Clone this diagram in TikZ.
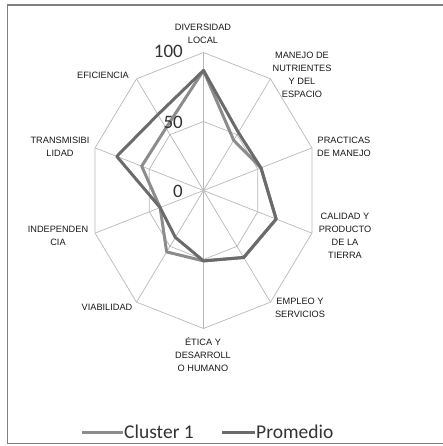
\documentclass[tikz,border=0pt]{standalone}
\usepackage{fontspec}
\setmainfont{Liberation Sans}
\newfontfamily\calib{Carlito}
\begin{document}
\begin{tikzpicture}[x=1pt,y=-1pt,
  gridline/.style={draw=black!28, line width=0.7pt},
  frameline/.style={draw=black!50, line width=1.6pt},
  clusterline/.style={draw=black!45, line width=3pt, line join=round},
  promline/.style={draw=black!58, line width=3pt, line join=round},
  axlabel/.style={font=\fontsize{9.2}{13}\selectfont, align=center, inner sep=0pt, text=black!90},
  scalelabel/.style={font=\calib\fontsize{19}{19}\selectfont, anchor=east, inner sep=0pt, text=black!80},
  legendtext/.style={font=\calib\fontsize{19.5}{19.5}\selectfont, anchor=west, inner sep=0pt, text=black!80}
]
\useasboundingbox (0,0) rectangle (442,446);
\draw[frameline] (7.5,5) rectangle (446,443.5);

\coordinate (o) at (203.5,190.5);
\foreach \k in {0,...,9} {
  \pgfmathsetmacro\ang{90-36*\k}
  \coordinate (v\k) at ({203.5+114*cos(\ang)},{190.5-138*sin(\ang)});
  \coordinate (h\k) at ({203.5+57*cos(\ang)},{190.5-69*sin(\ang)});
}
\draw[gridline] (v0)--(v1)--(v2)--(v3)--(v4)--(v5)--(v6)--(v7)--(v8)--(v9)--cycle;
\draw[gridline] (h0)--(h1)--(h2)--(h3)--(h4)--(h5)--(h6)--(h7)--(h8)--(h9)--cycle;
\foreach \k in {0,...,9} { \draw[gridline] (o) -- (v\k); }

% data
\foreach \k/\val in {0/87,1/45,2/53,3/67,4/60,5/51,6/55,7/40,8/57,9/56} {
  \coordinate (c\k) at ({203.5+1.14*\val*cos(90-36*\k)},{190.5-1.38*\val*sin(90-36*\k)});
}
\foreach \k/\val in {0/87,1/52,2/53,3/67,4/60,5/51,6/42,7/40,8/80,9/68} {
  \coordinate (p\k) at ({203.5+1.14*\val*cos(90-36*\k)},{190.5-1.38*\val*sin(90-36*\k)});
}
\draw[clusterline] (c0)--(c1)--(c2)--(c3)--(c4)--(c5)--(c6)--(c7)--(c8)--(c9)--cycle;
\draw[promline] (p0)--(p1)--(p2)--(p3)--(p4)--(p5)--(p6)--(p7)--(p8)--(p9)--cycle;

% scale labels
\node[scalelabel] (s100) at (183,51) {100};
\node[scalelabel] (s50) at (183,122) {50};
\node[scalelabel] (s0) at (183,191) {0};

% axis labels
\node[axlabel] (l0) at (203,34) {DIVERSIDAD\\LOCAL};
\node[axlabel] (l1) at (302,75) {MANEJO DE\\NUTRIENTES\\Y DEL\\ESPACIO};
\node[axlabel] (l2) at (344,146.5) {PRACTICAS\\DE MANEJO};
\node[axlabel] (l3) at (345,236) {CALIDAD Y\\PRODUCTO\\DE LA\\TIERRA};
\node[axlabel] (l4) at (300,307.5) {EMPLEO Y\\SERVICIOS};
\node[axlabel] (l5) at (203,355) {ÉTICA Y\\DESARROLL\\O HUMANO};
\node[axlabel] (l6) at (107,307) {VIABILIDAD};
\node[axlabel] (l7) at (58,236) {INDEPENDEN\\CIA};
\node[axlabel] (l8) at (60,147) {TRANSMISIBI\\LIDAD};
\node[axlabel] (l9) at (103,75) {EFICIENCIA};

% legend
\coordinate (lc1) at (82,432);
\coordinate (lc2) at (123,432);
\coordinate (lp1) at (222,432);
\coordinate (lp2) at (255,432);
\draw[clusterline] (lc1) -- (lc2);
\node[legendtext] (tc) at (124,432) {Cluster 1};
\draw[promline] (lp1) -- (lp2);
\node[legendtext] (tp) at (256,432) {Promedio};
\end{tikzpicture}
\end{document}
